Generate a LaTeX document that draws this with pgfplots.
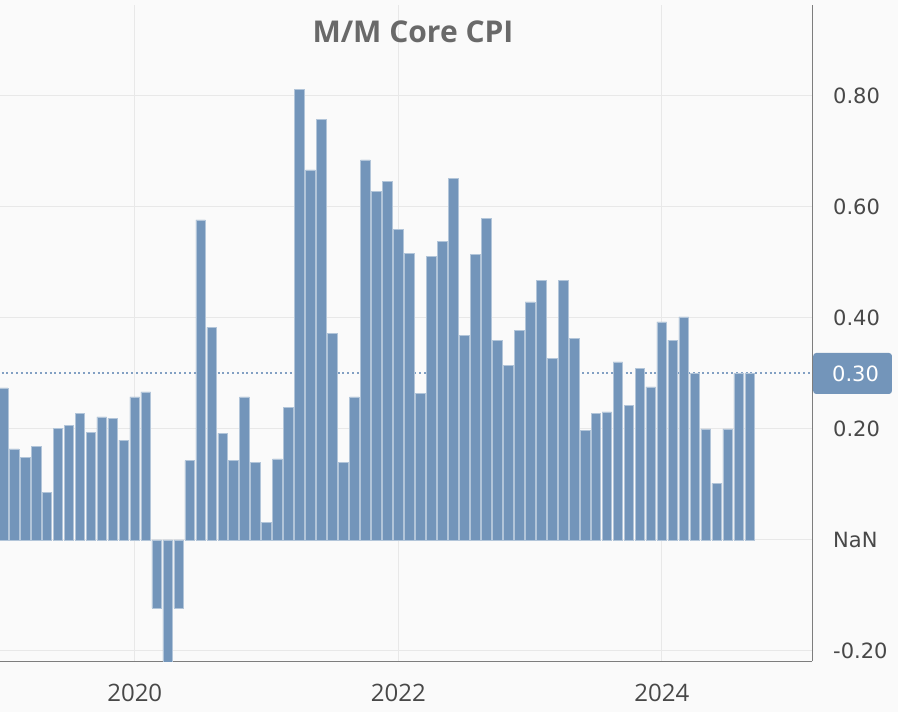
\documentclass[border=0pt]{standalone}
\usepackage{pgfplots}
\pgfplotsset{compat=1.18}
\usepackage{pgfplotstable}
\usepackage{fontspec}
\setmainfont{DejaVu Sans}
\newfontfamily\titlefont{Open Sans}
\definecolor{barblue}{RGB}{115,149,186}
\definecolor{dotblue}{RGB}{130,160,195}
\definecolor{bg}{RGB}{250,250,250}
\definecolor{gridc}{RGB}{232,232,232}
\definecolor{tickc}{RGB}{72,72,72}
\definecolor{titlec}{RGB}{105,105,105}
\definecolor{axisc}{RGB}{125,125,125}
\pgfplotstableread{
i v
0 0.274
1 0.164
2 0.149
3 0.168
4 0.086
5 0.201
6 0.207
7 0.228
8 0.194
9 0.222
10 0.219
11 0.180
12 0.258
13 0.267
14 -0.123
15 -0.45
16 -0.123
17 0.143
18 0.577
19 0.383
20 0.192
21 0.143
22 0.258
23 0.140
24 0.032
25 0.146
26 0.239
27 0.812
28 0.667
29 0.758
30 0.372
31 0.140
32 0.258
33 0.685
34 0.628
35 0.646
36 0.559
37 0.517
38 0.264
39 0.511
40 0.538
41 0.652
42 0.369
43 0.514
44 0.580
45 0.360
46 0.315
47 0.378
48 0.429
49 0.468
50 0.327
51 0.468
52 0.363
53 0.198
54 0.228
55 0.231
56 0.321
57 0.243
58 0.309
59 0.276
60 0.393
61 0.360
62 0.402
63 0.300
64 0.200
65 0.102
66 0.200
67 0.300
68 0.300
}\cpi
\begin{document}
\begin{tikzpicture}[x=1pt,y=1pt]
\fill[bg] (0pt,0pt) rectangle (898pt,712pt);
\begin{axis}[
  at={(0pt,50.5pt)}, anchor=south west,
  scale only axis, width=812pt, height=656.5pt,
  xmin=-0.273, xmax=73.68, ymin=-0.219, ymax=0.964,
  axis x line*=bottom, axis y line*=right,
  x axis line style={-, draw=axisc, line width=1.6pt},
  y axis line style={-, draw=axisc, line width=1pt},
  xtick={12,36,60}, xticklabels={2020,2022,2024},
  ytick={-0.2,0,0.2,0.4,0.6,0.8},
  yticklabels={-0.20,NaN,0.20,0.40,0.60,0.80},
  major tick length=0pt,
  xmajorgrids, ymajorgrids,
  grid style={gridc, line width=1pt},
  yticklabel style={anchor=west, inner sep=0pt, xshift=21pt,
    font=\fontsize{21}{24}\selectfont, text=tickc},
  xticklabel style={anchor=north, inner sep=0pt, yshift=-22pt,
    font=\titlefont\fontsize{24}{28}\selectfont, text=tickc},
]
\addplot[dotblue, line width=2pt, dash pattern=on 2pt off 2.8pt, forget plot]
  coordinates {(-1,0.3) (75,0.3)};
\addplot[ybar, bar width=0.88, fill=barblue, draw=white!45!barblue, line width=0.5pt]
  table[x=i, y=v] {\cpi};
\coordinate (p30) at (axis cs:73.68,0.3);
\end{axis}
\node[anchor=west, fill=barblue, text=white, inner xsep=0pt, minimum height=41pt,
  rounded corners=3pt, font=\fontsize{21}{24}\selectfont, xshift=1pt]
  at (p30) {\hspace*{19pt}0.30\hspace*{13pt}};
\node[anchor=base, font=\titlefont\bfseries\fontsize{30}{34}\selectfont, text=titlec]
  at (413pt,669.3pt) {M/M Core CPI};
\pgfresetboundingbox
\path[use as bounding box] (0pt,0pt) rectangle (898pt,712pt);
\end{tikzpicture}
\end{document}
